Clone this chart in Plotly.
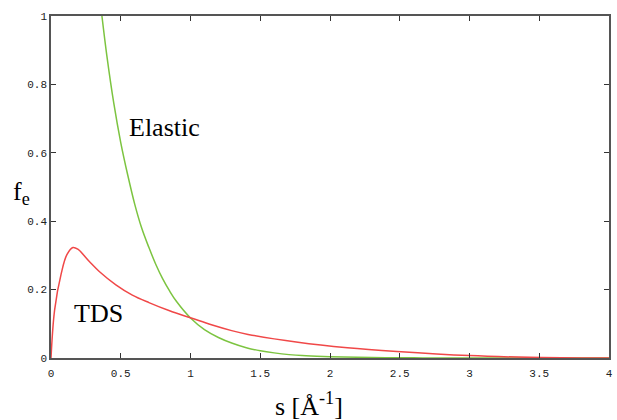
import plotly.graph_objects as go

# Elastic curve
s_elastic = [0.365, 0.40, 0.45, 0.50, 0.55, 0.60, 0.65, 0.70, 0.75, 0.80, 0.85, 0.90, 1.00, 1.10, 1.20, 1.30, 1.40, 1.50, 1.60, 1.80, 2.00, 2.30, 2.60, 3.00, 4.00]
f_elastic = [1.000, 0.885, 0.745, 0.630, 0.535, 0.450, 0.380, 0.325, 0.275, 0.232, 0.196, 0.165, 0.117, 0.083, 0.060, 0.043, 0.030, 0.021, 0.015, 0.007, 0.004, 0.0015, 0.0005, 0.0, 0.0]

# TDS curve
s_tds = [0.0, 0.026, 0.074, 0.114, 0.157, 0.192, 0.275, 0.346, 0.465, 0.583, 0.702, 0.85, 1.005, 1.15, 1.295, 1.413, 1.77, 2.125, 2.48, 3.0, 3.43, 3.8, 4.0]
f_tds = [0.0, 0.141, 0.248, 0.302, 0.323, 0.318, 0.282, 0.253, 0.214, 0.184, 0.162, 0.138, 0.117, 0.097, 0.080, 0.069, 0.046, 0.030, 0.019, 0.007, 0.002, 0.0, 0.0]

x_ticks = [0, 0.5, 1, 1.5, 2, 2.5, 3, 3.5, 4]
y_ticks = [0, 0.2, 0.4, 0.6, 0.8, 1]

fig = go.Figure()
fig.add_trace(go.Scatter(x=s_elastic, y=f_elastic, mode="lines",
                         line=dict(color="#7cc440", width=1.5, shape="spline", smoothing=1.0),
                         showlegend=False))
fig.add_trace(go.Scatter(x=s_tds, y=f_tds, mode="lines",
                         line=dict(color="#f04848", width=1.5, shape="spline", smoothing=1.0),
                         showlegend=False))

axis_common = dict(showline=True, linecolor="#555555", linewidth=1.5, mirror="ticks",
                   ticks="inside", ticklen=5, tickcolor="#333333", tickwidth=1,
                   showgrid=False, zeroline=False,
                   tickfont=dict(family="Liberation Mono", size=11, color="#222222"))

fig.update_xaxes(range=[0, 4], tickvals=x_ticks, ticklabelstandoff=4,
                 ticktext=[str(v) for v in x_ticks], **axis_common)
fig.update_yaxes(range=[0, 1], tickvals=y_ticks,
                 ticktext=[("%g" % v) for v in y_ticks], **axis_common)

serif = dict(family="Liberation Serif", size=26, color="black")
fig.add_annotation(x=0.545, y=0.675, xref="x", yref="y", text="Elastic", showarrow=False,
                   xanchor="left", yanchor="middle", font=serif)
fig.add_annotation(x=0.147, y=0.129, xref="x", yref="y", text="TDS", showarrow=False,
                   xanchor="left", yanchor="middle", font=serif)
fig.add_annotation(x=-0.053, y=0.482, xref="paper", yref="paper", text="f<sub>e</sub>",
                   showarrow=False, xanchor="center", yanchor="middle", font=serif)
fig.add_annotation(x=0.463, y=-0.137, xref="paper", yref="paper", text="s [Å<sup>-1</sup>]",
                   showarrow=False, xanchor="center", yanchor="middle", font=serif)

fig.update_layout(width=617, height=420, margin=dict(l=51, r=4, t=16, b=62),
                  paper_bgcolor="white", plot_bgcolor="white")

fig.write_html("out.html", config={"displayModeBar": False},
               post_script="document.body.style.margin='0px';document.body.style.overflow='hidden';")
